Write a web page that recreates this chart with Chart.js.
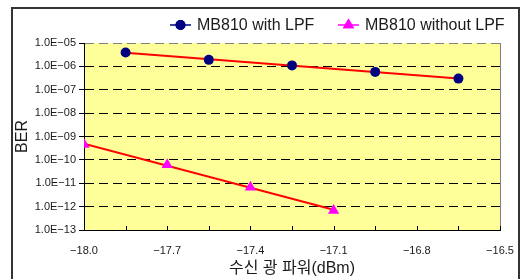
<!DOCTYPE html>
<html>
<head>
<meta charset="utf-8">
<script src="https://cdn.jsdelivr.net/npm/chart.js@4"></script>
<style>
  html, body { margin: 0; padding: 0; background: #fff; }
  #wrap { width: 523px; height: 279px; }
</style>
</head>
<body>
<div id="wrap"><canvas id="c" width="523" height="279"></canvas></div>
<script>
// ---- data ----
const seriesNames = ['MB810 with LPF', 'MB810 without LPF'];
const powerWith = [-17.85, -17.55, -17.25, -16.95, -16.65];
const berWith = [3.9e-6, 1.9e-6, 1.1e-6, 5.8e-7, 3.0e-7];
const powerWithout = [-18.0, -17.7, -17.4, -17.1];
const berWithout = [4.5e-10, 6.2e-11, 6.8e-12, 6.8e-13];
const xTickValues = [-18.0, -17.7, -17.4, -17.1, -16.8, -16.5];
const xTickLabels = ['\u221218.0', '\u221217.7', '\u221217.4', '\u221217.1', '\u221216.8', '\u221216.5'];
const yTickValues = [1e-13, 1e-12, 1e-11, 1e-10, 1e-9, 1e-8, 1e-7, 1e-6, 1e-5];
const yTickLabels = ['1.0E\u221213', '1.0E\u221212', '1.0E\u221211', '1.0E\u221210', '1.0E\u221209', '1.0E\u221208', '1.0E\u221207', '1.0E\u221206', '1.0E\u221205'];
const xTitle = '수신 광 파워(dBm)';
const yTitle = 'BER';

function trend(xs, ys) {
  const n = xs.length;
  const ly = ys.map(v => Math.log10(v));
  const mx = xs.reduce((a, b) => a + b, 0) / n;
  const my = ly.reduce((a, b) => a + b, 0) / n;
  let sxy = 0, sxx = 0;
  for (let i = 0; i < n; i++) { sxy += (xs[i] - mx) * (ly[i] - my); sxx += (xs[i] - mx) ** 2; }
  const b = sxy / sxx, a = my - b * mx;
  const x0 = Math.min(...xs), x1 = Math.max(...xs);
  return [{x: x0, y: Math.pow(10, a + b * x0)}, {x: x1, y: Math.pow(10, a + b * x1)}];
}

const FONT = "'Liberation Sans', Arial, 'Noto Sans CJK KR', sans-serif";
const TXT = '#1a1a1a';

const bgPlugin = {
  id: 'bg',
  beforeDraw(chart) {
    const {ctx, chartArea: a} = chart;
    ctx.save();
    ctx.fillStyle = '#ffffff';
    ctx.fillRect(0, 0, chart.width, chart.height);
    ctx.fillStyle = '#FFFF99';
    ctx.fillRect(a.left, a.top, a.right - a.left, a.bottom - a.top);
    ctx.restore();
  },
  afterDraw(chart) {
    const {ctx, chartArea: a} = chart;
    const xs = chart.scales.x;
    ctx.save();
    ctx.strokeStyle = '#808080';
    ctx.lineWidth = 1;
    ctx.beginPath();
    ctx.moveTo(Math.round(a.right) + 0.5, a.top);
    ctx.lineTo(Math.round(a.right) + 0.5, a.bottom);
    ctx.stroke();
    ctx.strokeStyle = '#000';
    const marks = [];
    for (let i = 0; i < xTickValues.length; i++) {
      marks.push(xTickValues[i]);
      if (i < xTickValues.length - 1) marks.push((xTickValues[i] + xTickValues[i + 1]) / 2);
    }
    marks.forEach(v => {
      const px = Math.round(xs.getPixelForValue(v)) + 0.5;
      ctx.beginPath();
      ctx.moveTo(px, a.bottom);
      ctx.lineTo(px, a.bottom - 4);
      ctx.stroke();
    });
    ctx.strokeStyle = '#333';
    ctx.lineWidth = 2;
    ctx.strokeRect(12, 8, 507, 300);
    const items = [
      {x: 170, color: '#000080', style: 'circle', r: 5, label: seriesNames[0]},
      {x: 338, color: '#FF00FF', style: 'triangle', r: 6.5, label: seriesNames[1]}
    ];
    const ly = 25;
    ctx.font = '16px ' + FONT;
    ctx.textBaseline = 'middle';
    items.forEach(it => {
      ctx.strokeStyle = it.color;
      ctx.lineWidth = 1.5;
      ctx.beginPath();
      ctx.moveTo(it.x, ly);
      ctx.lineTo(it.x + 21, ly);
      ctx.stroke();
      ctx.fillStyle = it.color;
      Chart.helpers.drawPoint(ctx, {pointStyle: it.style, radius: it.r, borderWidth: 0, rotation: 0}, it.x + 10.5, ly);
      ctx.fill();
      ctx.fillStyle = TXT;
      ctx.textAlign = 'left';
      ctx.fillText(it.label, it.x + 27, ly + 1);
    });
    ctx.restore();
  }
};

const ctx = document.getElementById('c').getContext('2d');
new Chart(ctx, {
  type: 'scatter',
  data: {
    datasets: [
      {label: seriesNames[0], data: powerWith.map((x, i) => ({x, y: berWith[i]})),
       pointStyle: 'circle', pointRadius: 5, pointBackgroundColor: '#000080', pointBorderColor: '#000080',
       pointBorderWidth: 0, showLine: false, order: 1},
      {label: seriesNames[1], data: powerWithout.map((x, i) => ({x, y: berWithout[i]})),
       pointStyle: 'triangle', pointRadius: 6.5, pointBackgroundColor: '#FF00FF', pointBorderColor: '#FF00FF',
       pointBorderWidth: 0, showLine: false, order: 1},
      {label: 'trend1', data: trend(powerWith, berWith), showLine: true, borderColor: '#FF0000',
       borderWidth: 2, pointRadius: 0, order: 2},
      {label: 'trend2', data: trend(powerWithout, berWithout), showLine: true, borderColor: '#FF0000',
       borderWidth: 2, pointRadius: 0, order: 2}
    ]
  },
  options: {
    responsive: false,
    animation: false,
    layout: {padding: {left: 12, right: 23, top: 43, bottom: 0}},
    plugins: {legend: {display: false}, tooltip: {enabled: false}},
    scales: {
      x: {
        type: 'linear', min: -18, max: -16.5,
        afterBuildTicks: s => { s.ticks = xTickValues.map(v => ({value: v})); },
        afterFit: s => { s.height = 49; s.paddingLeft = 0; s.paddingRight = 0; },
        ticks: {callback: (v, i) => xTickLabels[i], font: {size: 11, family: FONT}, color: TXT,
                padding: 14, maxRotation: 0, autoSkip: false},
        grid: {drawOnChartArea: false, drawTicks: false},
        border: {color: '#000', width: 1},
        title: {display: true, text: xTitle, font: {size: 16, family: FONT}, color: TXT,
                padding: {top: 0, bottom: 1}}
      },
      y: {
        type: 'logarithmic', min: 1e-13, max: 1e-5,
        afterBuildTicks: s => { s.ticks = yTickValues.map(v => ({value: v})); },
        afterFit: s => { s.width = 72; s.paddingTop = 0; s.paddingBottom = 0; },
        ticks: {callback: (v, i) => yTickLabels[i], font: {size: 11, family: FONT}, color: TXT,
                padding: 3, autoSkip: false},
        grid: {
          color: c => (c.tick && c.tick.value >= 1e-5) ? '#808080' : '#000',
          lineWidth: 1, tickLength: 5, tickColor: '#000', tickBorderDash: []
        },
        border: {color: '#000', width: 1, dash: [9, 5]},
        title: {display: true, text: yTitle, font: {size: 16, family: FONT}, color: TXT,
                padding: {top: 1, bottom: 0}}
      }
    }
  },
  plugins: [bgPlugin]
});
</script>
</body>
</html>
